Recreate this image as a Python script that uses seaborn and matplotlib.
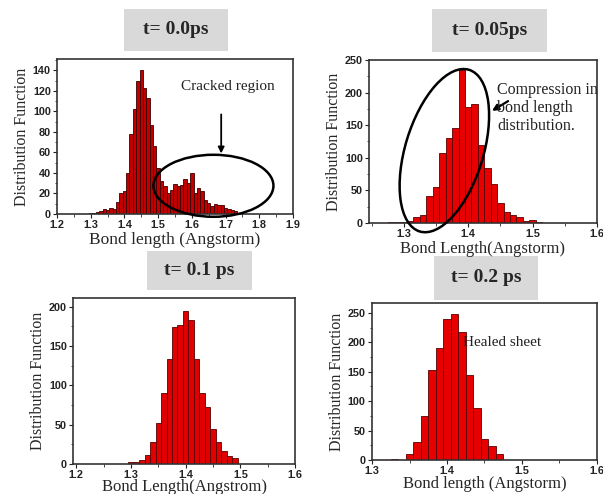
import numpy as np
import pandas as pd
import matplotlib
matplotlib.use('Agg')
import matplotlib.pyplot as plt
import matplotlib.transforms as mtransforms
from matplotlib.patches import Ellipse, Rectangle
from matplotlib.ticker import MultipleLocator
import seaborn as sns

# ── Data: bin centres (Angstrom) and counts ─────────────────────────────────
t0_centers = np.round(np.arange(1.30, 1.745, 0.01), 2)
t0_counts = [1, 1, 2, 3, 5, 4, 6, 5, 12, 20, 22, 40, 78, 102, 130, 140, 123, 113,
             87, 66, 45, 32, 27, 20, 23, 29, 27, 28, 34, 30, 40, 20, 25, 22, 14,
             11, 8, 10, 9, 9, 6, 5, 4, 3, 1]

t005_centers = np.round(np.arange(1.28, 1.515, 0.01), 2)
t005_counts = [1, 1, 2, 3, 9, 13, 42, 55, 108, 130, 145, 235, 178, 183, 120, 85,
               60, 30, 17, 12, 9, 3, 5, 1]

t01_centers = np.round(np.arange(1.30, 1.495, 0.01), 2)
t01_counts = [2, 3, 5, 12, 28, 52, 90, 133, 174, 177, 195, 183, 133, 90, 72, 44,
              28, 16, 10, 7]

t02_centers = np.round(np.arange(1.33, 1.475, 0.01), 2)
t02_counts = [1, 0, 11, 31, 75, 153, 191, 240, 248, 218, 144, 88, 35, 23, 11]

titles = ['t= 0.0ps', 't= 0.05ps', 't= 0.1 ps', 't= 0.2 ps']
xlabels = ['Bond length (Angstorm)', 'Bond Length(Angstorm)',
           'Bond Length(Angstrom)', 'Bond length (Angstorm)']
ylabel = 'Distribution Function'

# ── Style ───────────────────────────────────────────────────────────────────
sns.set_style('ticks')
plt.rcParams['font.family'] = ['Liberation Serif', 'DejaVu Serif']

W, H = 603, 494
fig = plt.figure(figsize=(W / 100, H / 100), dpi=100)


def px_axes(left, top, right, bottom):
    return fig.add_axes([left / W, 1 - bottom / H, (right - left) / W, (bottom - top) / H])


def draw_hist(ax, centers, counts, face, edge):
    df = pd.DataFrame({'x': centers, 'n': counts})
    edges = [round(c - 0.005, 4) for c in centers] + [round(centers[-1] + 0.005, 4)]
    sns.histplot(data=df, x='x', weights='n', bins=edges, ax=ax, color=face,
                 edgecolor=edge, linewidth=0.6, alpha=1.0)


def style_axes(ax, xlim, ylim, xmaj, ymaj, xlabel, xpad=1):
    ax.set_xlim(*xlim)
    ax.set_ylim(*ylim)
    ax.xaxis.set_major_locator(MultipleLocator(xmaj))
    ax.xaxis.set_minor_locator(MultipleLocator(xmaj / 2))
    ax.yaxis.set_major_locator(MultipleLocator(ymaj))
    ax.yaxis.set_minor_locator(MultipleLocator(ymaj / 2))
    ax.tick_params(which='major', direction='out', length=3, width=0.8, pad=1.5,
                   colors='#222222')
    ax.tick_params(which='minor', direction='out', length=1.8, width=0.6)
    for lab in ax.get_xticklabels() + ax.get_yticklabels():
        lab.set_fontfamily('Liberation Sans')
        lab.set_fontweight('bold')
        lab.set_fontsize(7.8)
    for s in ax.spines.values():
        s.set_visible(True)
        s.set_color('#333333')
        s.set_linewidth(1.2)
    ax.set_xlabel(xlabel, fontsize=12, labelpad=xpad)
    ax.set_ylabel(ylabel, fontsize=11.5, labelpad=2)


def title_box(x0, y0, x1, y1, text):
    fig.add_artist(Rectangle((x0 / W, 1 - y1 / H), (x1 - x0) / W, (y1 - y0) / H,
                             transform=fig.transFigure, facecolor='#d9d9d9',
                             edgecolor='none', zorder=0))
    fig.text((x0 + x1) / 2 / W, 1 - (y0 + y1) / 2 / H, text, ha='center', va='center',
             fontsize=14, fontweight='bold')


def ring(ax, cx, cy, w_in, h_in, angle):
    tr = fig.dpi_scale_trans + mtransforms.ScaledTranslation(cx, cy, ax.transData)
    ax.add_patch(Ellipse((0, 0), w_in, h_in, angle=angle, transform=tr, fill=False,
                         edgecolor='black', linewidth=1.8, clip_on=False, zorder=5))


# ── Panel 1: t = 0.0 ps ─────────────────────────────────────────────────────
ax1 = px_axes(57, 59, 293, 214)
draw_hist(ax1, t0_centers, t0_counts, '#c00000', '#3a0000')
style_axes(ax1, (1.2, 1.9), (0, 151), 0.1, 20, xlabels[0])
ax1.xaxis.label.set_fontsize(12.5)
ring(ax1, 1.664, 27.5, 1.20, 0.62, 0)
ax1.annotate('', xy=(1.687, 59), xytext=(1.687, 97),
             arrowprops=dict(arrowstyle='-|>', color='black', lw=1.3, mutation_scale=9,
                             shrinkA=0, shrinkB=0))
ax1.text(1.706, 124, 'Cracked region', ha='center', va='center', fontsize=11,
         color='#222222')

# ── Panel 2: t = 0.05 ps ────────────────────────────────────────────────────
ax2 = px_axes(369, 60, 597, 223)
draw_hist(ax2, t005_centers, t005_counts, '#e60000', '#5a0000')
style_axes(ax2, (1.246, 1.6), (0, 250), 0.1, 50, xlabels[1])
ring(ax2, 1.363, 111, 1.69, 0.78, 73)
ax2.annotate('', xy=(1.437, 172), xytext=(1.462, 187),
             arrowprops=dict(arrowstyle='-|>', color='black', lw=1.6, mutation_scale=9,
                             shrinkA=0, shrinkB=0))
ax2.text(1.445, 217, 'Compression in\nbond length\ndistribution.', ha='left', va='top',
         fontsize=11.5, linespacing=1.2, color='#222222', clip_on=False)

# ── Panel 3: t = 0.1 ps ─────────────────────────────────────────────────────
ax3 = px_axes(73, 298, 295, 464)
draw_hist(ax3, t01_centers, t01_counts, '#e00000', '#5a0000')
style_axes(ax3, (1.194, 1.6), (0, 211), 0.1, 50, xlabels[2], xpad=-1)

# ── Panel 4: t = 0.2 ps ─────────────────────────────────────────────────────
ax4 = px_axes(372, 303, 597, 460)
draw_hist(ax4, t02_centers, t02_counts, '#e60000', '#5a0000')
style_axes(ax4, (1.3, 1.6), (0, 267), 0.1, 50, xlabels[3], xpad=0)
ax4.text(1.422, 200, 'Healed sheet', ha='left', va='center', fontsize=11,
         color='#222222')

title_box(124, 9, 228, 51, titles[0])
title_box(432, 9, 547, 52, titles[1])
title_box(147, 251, 252, 290, titles[2])
title_box(434, 256, 538, 300, titles[3])

plt.savefig('out.png', dpi=100, facecolor='white')
